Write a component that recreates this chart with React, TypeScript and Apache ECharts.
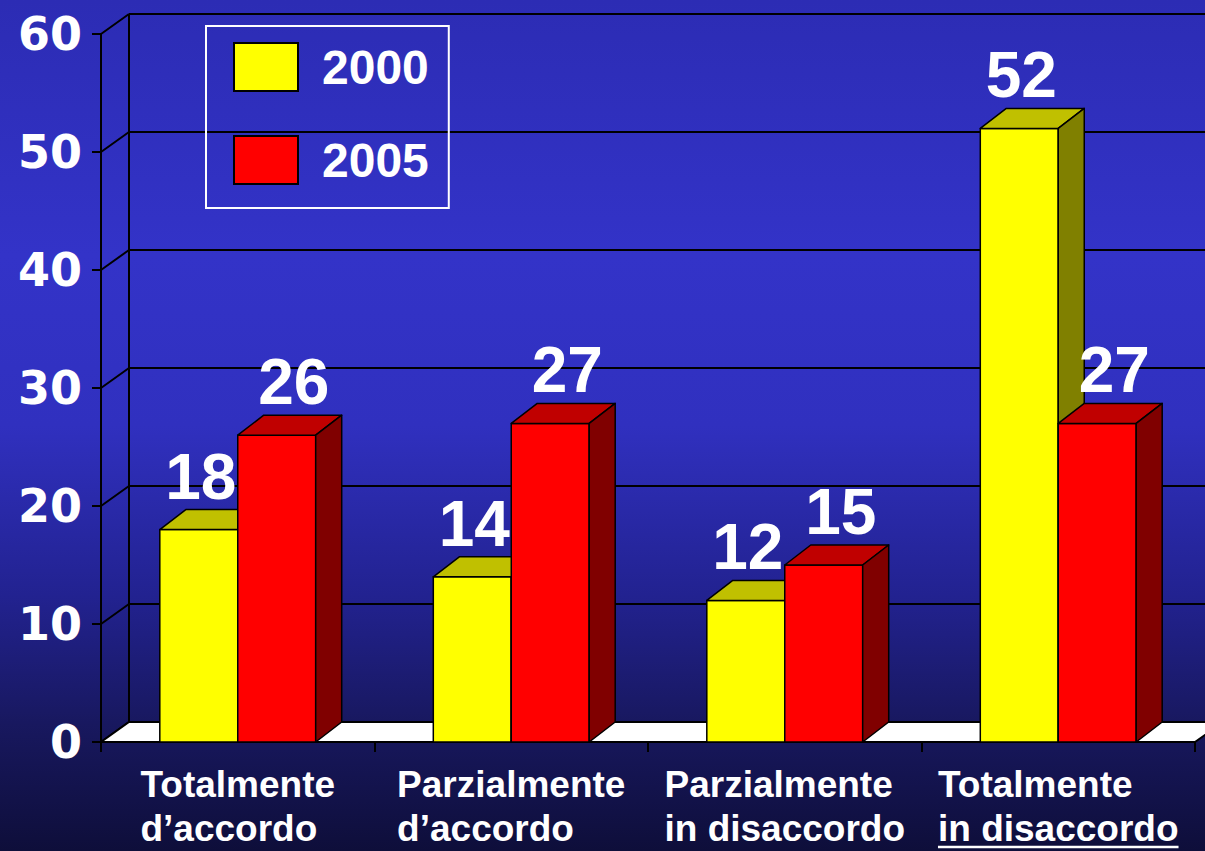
import React, { useEffect, useRef } from "react";
import * as echarts from "echarts";

const categories = ["Totalmente\nd’accordo", "Parzialmente\nd’accordo", "Parzialmente\nin disaccordo", "Totalmente\nin disaccordo"];
const underlinedSecondLine = [false, false, false, true];
const seriesNames = ["2000", "2005"];
const values2000 = [18, 14, 12, 52];
const values2005 = [26, 27, 15, 27];
const yMin = 0;
const yMax = 60;
const yInterval = 10;

const WALL_DX = 28;
const WALL_DY = -20;
const BAR_DX = 26;
const BAR_DY = -20;
const BAR_RATIO = 0.285;
const LABEL_SHIFT = [2, 17];

const barColors = [
  { front: "#ffff00", top: "#c0c000", side: "#808000" },
  { front: "#ff0000", top: "#c00000", side: "#800000" },
];

let measureCtx: CanvasRenderingContext2D | null = null;
function textWidth(s: string, font: string): number {
  if (!measureCtx) measureCtx = document.createElement("canvas").getContext("2d");
  if (!measureCtx) return s.length * 20;
  measureCtx.font = font;
  return measureCtx.measureText(s).width;
}

function barGeometry(seriesIndex: number, api: any) {
  const idx = api.value(0);
  const val = api.value(1);
  const base = api.coord([idx, 0]);
  const top = api.coord([idx, val]);
  const band = api.size([1, 0])[0];
  const w = band * BAR_RATIO;
  const x0 = seriesIndex === 0 ? base[0] - w : base[0];
  return { val, x0, x1: x0 + w, w, yb: base[1], yt: top[1] };
}

function makeBarRenderer(seriesIndex: number) {
  const c = barColors[seriesIndex];
  return (params: any, api: any) => {
    const { x0, x1, w, yb, yt } = barGeometry(seriesIndex, api);
    const stroke = { stroke: "#000", lineWidth: 1.5, lineJoin: "round" };
    return {
      type: "group",
      children: [
        { type: "rect", shape: { x: x0, y: yt, width: w, height: yb - yt }, style: { fill: c.front, ...stroke } },
        {
          type: "polygon",
          shape: { points: [[x0, yt], [x1, yt], [x1 + BAR_DX, yt + BAR_DY], [x0 + BAR_DX, yt + BAR_DY]] },
          style: { fill: c.top, ...stroke },
        },
        {
          type: "polygon",
          shape: { points: [[x1, yt], [x1 + BAR_DX, yt + BAR_DY], [x1 + BAR_DX, yb + BAR_DY], [x1, yb]] },
          style: { fill: c.side, ...stroke },
        },
      ],
    };
  };
}

function makeLabelRenderer(seriesIndex: number) {
  return (params: any, api: any) => {
    const { val, x0, w, yt } = barGeometry(seriesIndex, api);
    return {
      type: "text",
      x: x0 + w / 2 + LABEL_SHIFT[seriesIndex],
      y: yt + BAR_DY - 12 - 21,
      style: {
        text: String(val),
        fill: "#ffffff",
        font: 'bold 64px "Liberation Sans", Arial, sans-serif',
        align: "center",
        verticalAlign: "middle",
      },
    };
  };
}

function wallRenderer(params: any, api: any) {
  const cs = params.coordSys;
  const x0 = cs.x;
  const xr = cs.x + cs.width;
  const yb = api.coord([0, yMin])[1];
  const yt = api.coord([0, yMax])[1];
  const children: any[] = [];
  const lineStyle = { stroke: "#000", lineWidth: 2 };
  for (let v = yMin; v <= yMax; v += yInterval) {
    const y = api.coord([0, v])[1];
    children.push({ type: "line", shape: { x1: x0, y1: y, x2: x0 + WALL_DX, y2: y + WALL_DY }, style: lineStyle });
    children.push({ type: "line", shape: { x1: x0 + WALL_DX, y1: y + WALL_DY, x2: xr + WALL_DX + 40, y2: y + WALL_DY }, style: lineStyle });
  }
  children.push({ type: "line", shape: { x1: x0 + WALL_DX, y1: yt + WALL_DY, x2: x0 + WALL_DX, y2: yb + WALL_DY }, style: lineStyle });
  children.push({
    type: "polygon",
    shape: { points: [[x0, yb], [xr, yb], [xr + WALL_DX, yb + WALL_DY], [x0 + WALL_DX, yb + WALL_DY]] },
    style: { fill: "#ffffff", stroke: "#000", lineWidth: 2 },
  });
  return { type: "group", children };
}

const CAT_FONT = 'bold 37px "Liberation Sans", Arial, sans-serif';

function categoryLabelRenderer(params: any, api: any) {
  const idx = api.value(0);
  const cx = api.coord([idx, yMin])[0];
  const yb = api.coord([idx, yMin])[1];
  const lines = categories[idx].split("\n");
  const widths = lines.map((l) => textWidth(l, CAT_FONT));
  const maxW = Math.max(...widths);
  const left = cx - maxW / 2;
  const children: any[] = [];
  lines.forEach((l, i) => {
    const y = yb + 42 + i * 44;
    children.push({
      type: "text",
      x: left,
      y,
      style: { text: l, fill: "#ffffff", font: CAT_FONT, align: "left", verticalAlign: "middle" },
    });
    if (i === 1 && underlinedSecondLine[idx]) {
      children.push({
        type: "line",
        shape: { x1: left, y1: y + 19, x2: left + widths[i], y2: y + 19 },
        style: { stroke: "#ffffff", lineWidth: 2.5 },
      });
    }
  });
  return { type: "group", children };
}

export default function App() {
  const ref = useRef<HTMLDivElement>(null);
  useEffect(() => {
    if (!ref.current) return;
    const chart = echarts.init(ref.current, null, { renderer: "svg" });
    const data2000 = values2000.map((v, i) => [i, v]);
    const data2005 = values2005.map((v, i) => [i, v]);
    chart.setOption({
      animation: false,
      backgroundColor: new echarts.graphic.LinearGradient(0, 0, 0, 1, [
        { offset: 0, color: "#2c2cb4" },
        { offset: 0.3, color: "#3333c8" },
        { offset: 0.5, color: "#3030bf" },
        { offset: 0.7, color: "#222290" },
        { offset: 0.85, color: "#18185f" },
        { offset: 1, color: "#0e0e3a" },
      ]),
      grid: { left: 101, right: 10, top: 34, bottom: 109 },
      legend: {
        data: seriesNames,
        orient: "vertical",
        left: 206,
        top: 26,
        padding: [16, 20, 23, 27],
        itemWidth: 64,
        itemHeight: 48,
        itemGap: 43,
        icon: "rect",
        borderColor: "#ffffff",
        borderWidth: 2,
        selectedMode: false,
        itemStyle: { borderColor: "#000", borderWidth: 2 },
        textStyle: {
          color: "#ffffff",
          fontSize: 48,
          lineHeight: 48,
          fontWeight: "bold",
          fontFamily: '"Liberation Sans", Arial, sans-serif',
          padding: [0, 0, 0, 19],
        },
      },
      xAxis: {
        type: "category",
        data: categories,
        boundaryGap: true,
        axisLine: { show: true, lineStyle: { color: "#000", width: 2 } },
        axisTick: { show: true, length: 10, lineStyle: { color: "#000", width: 2 } },
        axisLabel: { show: false },
        splitLine: { show: false },
      },
      yAxis: {
        type: "value",
        min: yMin,
        max: yMax,
        interval: yInterval,
        axisLine: { show: true, lineStyle: { color: "#000", width: 2 } },
        axisTick: { show: true, length: 9, lineStyle: { color: "#000", width: 2 } },
        axisLabel: {
          color: "#ffffff",
          fontSize: 46,
          fontWeight: "bold",
          fontFamily: '"DejaVu Sans", Verdana, sans-serif',
          margin: 19,
        },
        splitLine: { show: false },
      },
      series: [
        { type: "custom", silent: true, z: 1, clip: false, renderItem: wallRenderer, data: [[0, 0]] },
        {
          type: "custom",
          name: seriesNames[0],
          silent: true,
          z: 2,
          clip: false,
          itemStyle: { color: barColors[0].front },
          renderItem: makeBarRenderer(0),
          data: data2000,
        },
        {
          type: "custom",
          name: seriesNames[1],
          silent: true,
          z: 3,
          clip: false,
          itemStyle: { color: barColors[1].front },
          renderItem: makeBarRenderer(1),
          data: data2005,
        },
        { type: "custom", silent: true, z: 5, clip: false, renderItem: makeLabelRenderer(0), data: data2000 },
        { type: "custom", silent: true, z: 5, clip: false, renderItem: makeLabelRenderer(1), data: data2005 },
        {
          type: "custom",
          silent: true,
          z: 4,
          clip: false,
          renderItem: categoryLabelRenderer,
          data: categories.map((_, i) => [i, 0]),
        },
      ],
    });
    return () => chart.dispose();
  }, []);
  return <div ref={ref} style={{ position: "fixed", left: 0, top: 0, width: 1205, height: 851 }} />;
}
